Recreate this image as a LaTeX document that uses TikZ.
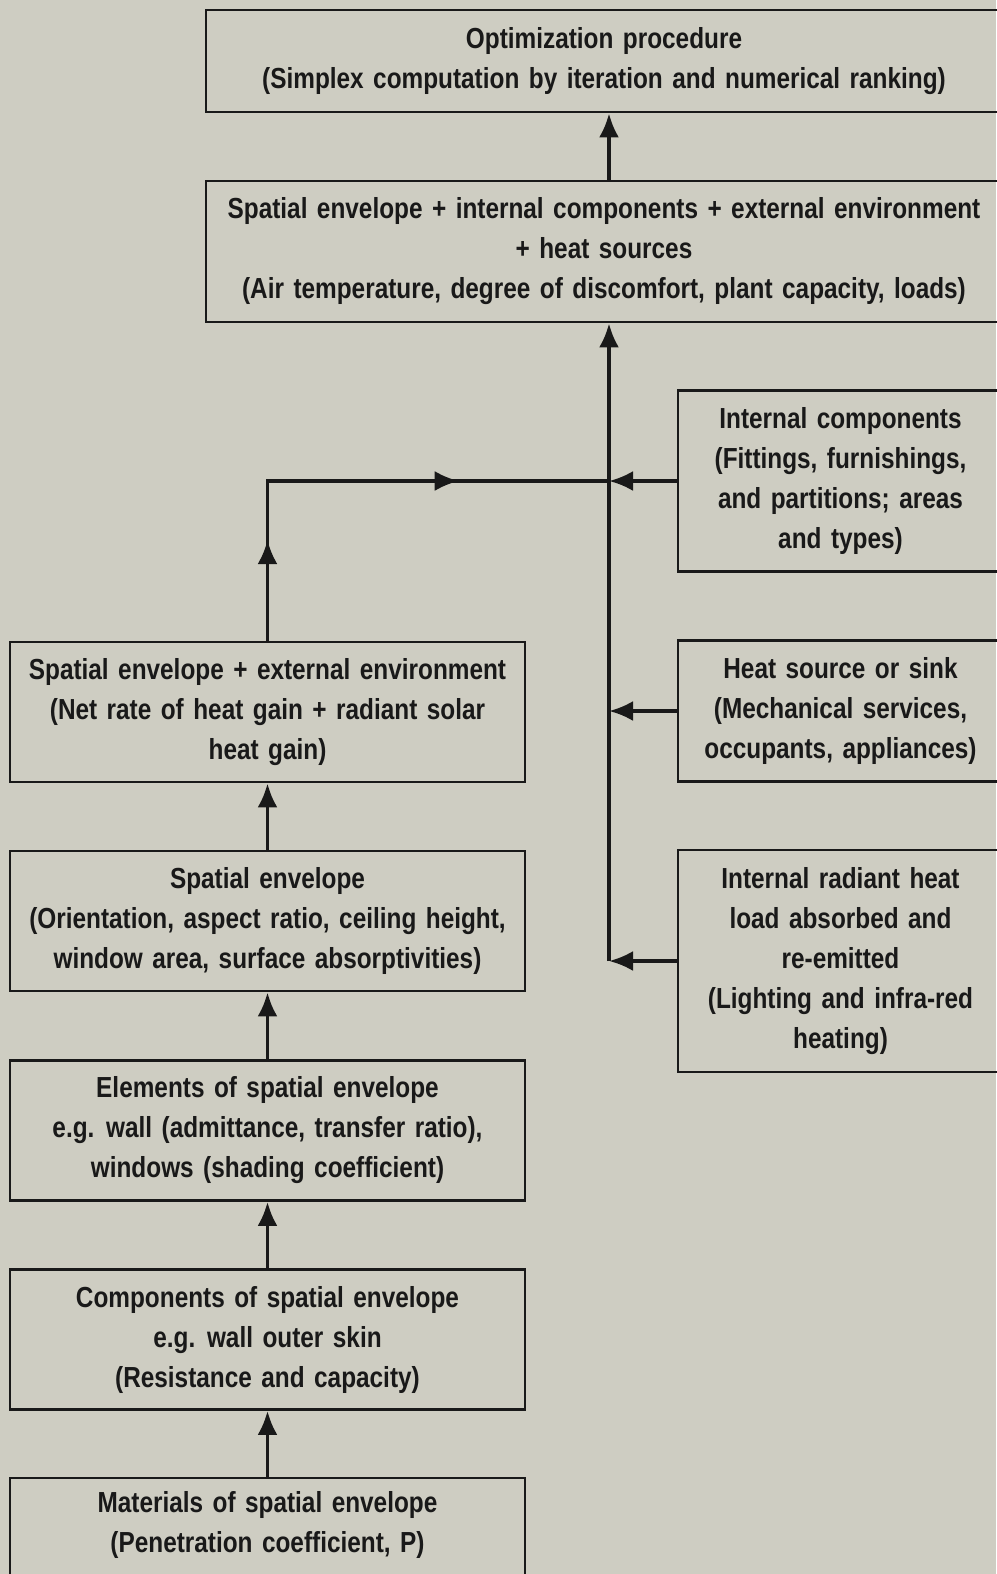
\documentclass[tikz,border=0pt]{standalone}
\usepackage{fontspec}
\setmainfont{Liberation Sans}[FakeStretch=0.84, WordSpace=1.4]
\usetikzlibrary{arrows.meta,calc}
\definecolor{bg}{RGB}{206,205,194}
\definecolor{ink}{RGB}{25,25,25}
\tikzset{
  box/.style={draw=ink, line width=1.4pt, inner sep=0pt, align=center, text=ink,
    font=\fontsize{14.5pt}{20pt}\selectfont\bfseries},
  conn/.style={draw=ink, line width=1.8pt},
  arr/.style={conn, -{Latex[length=12pt,width=10pt]}},
}
\begin{document}
\begin{tikzpicture}[x=0.5pt,y=-0.5pt]
\useasboundingbox (0,0) rectangle (996,1574);
\fill[bg] (0,0) rectangle (996,1574);

\node[box, minimum width=398pt, minimum height=51pt] (opt) at (604,61)
  {Optimization procedure\\(Simplex computation by iteration and numerical ranking)};
\node[box, minimum width=398pt, minimum height=70.5pt] (comb) at (604,251.5)
  {Spatial envelope + internal components + external environment\\+ heat sources\\(Air temperature, degree of discomfort, plant capacity, loads)};

\node[box, minimum width=162.5pt, minimum height=90.75pt] (ic) at (840.5,481)
  {Internal components\\(Fittings, furnishings,\\and partitions; areas\\and types)};
\node[box, minimum width=162.5pt, minimum height=70.25pt] (hs) at (840.5,711)
  {Heat source or sink\\(Mechanical services,\\occupants, appliances)};
\node[box, minimum width=162.5pt, minimum height=111pt] (rad) at (840.5,961)
  {Internal radiant heat\\load absorbed and\\re-emitted\\(Lighting and infra-red\\heating)};

\node[box, minimum width=257.5pt, minimum height=70pt] (seee) at (267.5,712)
  {Spatial envelope + external environment\\(Net rate of heat gain + radiant solar\\heat gain)};
\node[box, minimum width=257.5pt, minimum height=70pt] (se) at (267.5,921)
  {Spatial envelope\\(Orientation, aspect ratio, ceiling height,\\window area, surface absorptivities)};
\node[box, minimum width=257.5pt, minimum height=70pt] (elem) at (267.5,1130.5)
  {Elements of spatial envelope\\e.g. wall (admittance, transfer ratio),\\windows (shading coefficient)};
\node[box, minimum width=257.5pt, minimum height=70pt] (comp) at (267.5,1339.5)
  {Components of spatial envelope\\e.g. wall outer skin\\(Resistance and capacity)};
\node[box, minimum width=257.5pt, minimum height=70pt] (mat) at (267.5,1548)
  {Materials of spatial envelope\\(Penetration coefficient, P)\\\strut};

% spine
\coordinate (spine) at (609,961);
\coordinate (bend) at (seee.north |- ic.west);
\coordinate (join) at (spine |- ic.west);

\draw[arr] (comb.north -| spine) -- (opt.south -| spine);
\draw[arr] (spine) -- (spine |- comb.south);
\draw[arr] (rad.west) -- (spine);
\draw[arr] (hs.west) -- (hs.west -| spine);
\draw[arr] (ic.west) -- (join);

\draw[conn] (seee.north) -- (bend) -- (join);
\draw[arr] (seee.north) -- ($(seee.north)!0.63!(bend)$);
\draw[arr] (bend) -- ($(bend)!0.56!(join)$);

\draw[arr] (se.north) -- (seee.south);
\draw[arr] (elem.north) -- (se.south);
\draw[arr] (comp.north) -- (elem.south);
\draw[arr] (mat.north) -- (comp.south);
\end{tikzpicture}
\end{document}
